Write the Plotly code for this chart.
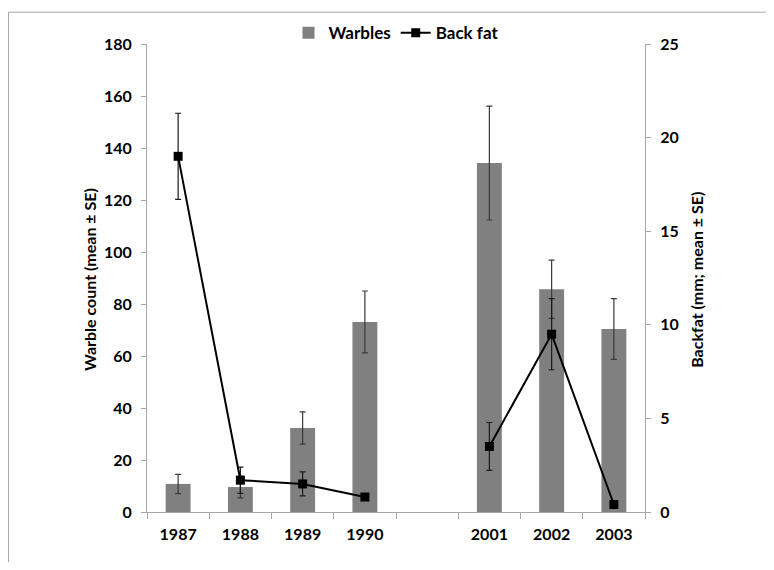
import plotly.graph_objects as go
from plotly.subplots import make_subplots

categories = ["1987", "1988", "1989", "1990", " ", "2001", "2002", "2003"]
warbles = [10.8, 9.6, 32.3, 73.1, None, 134.2, 85.7, 70.4]
warbles_se = [3.7, 4.2, 6.2, 11.9, None, 21.9, 11.2, 11.7]
backfat = [19.0, 1.7, 1.5, 0.8, None, 3.5, 9.5, 0.4]
backfat_se = [2.3, 0.7, 0.64, 0.0, None, 1.28, 1.9, 0.0]
left_title = "Warble count (mean ± SE)"
right_title = "Backfat (mm; mean ± SE)"

FONT = "Lato, 'Liberation Sans', Arial, sans-serif"
TICKFONT = dict(family=FONT, size=16, color="black", weight="bold")
TITLEFONT = dict(family=FONT, size=16, color="black", weight="bold")

fig = make_subplots(specs=[[{"secondary_y": True}]])
fig.add_trace(go.Bar(
    x=categories, y=warbles, name="Warbles",
    marker=dict(color="#808080", line=dict(width=0)),
    error_y=dict(type="data", array=warbles_se, visible=True,
                 color="#3a3a3a", thickness=1.2, width=3),
), secondary_y=False)
fig.add_trace(go.Scatter(
    x=categories, y=backfat, name="Back fat", mode="lines+markers",
    connectgaps=False,
    line=dict(color="black", width=2),
    marker=dict(symbol="square", size=9, color="black"),
    error_y=dict(type="data", array=backfat_se, visible=True,
                 color="#1a1a1a", thickness=1.2, width=3),
), secondary_y=True)

BORDER = dict(color="#a6a6a6", width=1)
fig.update_layout(
    width=758, height=554,
    margin=dict(l=139, r=121, t=36, b=50, autoexpand=False),
    paper_bgcolor="white", plot_bgcolor="white",
    bargap=0.6,
    font=dict(family=FONT, size=14, color="black"),
    showlegend=True,
    legend=dict(orientation="h", x=0.50, xanchor="center", y=1.023,
                yanchor="middle", font=dict(family=FONT, size=17, color="black", weight="bold"),
                bgcolor="rgba(0,0,0,0)", itemwidth=30, tracegroupgap=0),
    shapes=[
        dict(type="line", xref="paper", yref="paper",
             x0=-0.278, x1=1.3, y0=1.068, y1=1.068, line=BORDER),
        dict(type="line", xref="paper", yref="paper",
             x0=-0.278, x1=-0.278, y0=-0.2, y1=1.068, line=BORDER),
    ],
    annotations=[
        dict(text=left_title, xref="paper", yref="paper", x=-0.1145, y=0.498,
             xanchor="center", yanchor="middle", textangle=-90, showarrow=False,
             font=TITLEFONT),
        dict(text=right_title, xref="paper", yref="paper", x=1.1044, y=0.496,
             xanchor="center", yanchor="middle", textangle=-90, showarrow=False,
             font=TITLEFONT),
    ],
)
fig.update_xaxes(
    type="category", categoryorder="array", categoryarray=categories,
    domain=[0, 1],
    showline=True, linecolor="#a6a6a6", linewidth=1,
    ticks="outside", tickson="boundaries", ticklen=6, tickcolor="#a6a6a6",
    showgrid=False, zeroline=False, automargin=False, ticklabelstandoff=8,
    tickfont=TICKFONT,
)
fig.update_yaxes(
    range=[0, 180], dtick=20, showline=True, linecolor="#a6a6a6", linewidth=1,
    ticks="outside", ticklen=5, tickcolor="#a6a6a6", showgrid=False, zeroline=False,
    automargin=False, tickfont=TICKFONT, ticklabelstandoff=6,
    secondary_y=False,
)
fig.update_yaxes(
    range=[0, 25], dtick=5, showline=True, linecolor="#a6a6a6", linewidth=1,
    ticks="outside", ticklen=5, tickcolor="#a6a6a6", showgrid=False, zeroline=False,
    automargin=False, tickfont=TICKFONT, ticklabelstandoff=6,
    secondary_y=True,
)

fig.write_html("out.html")
